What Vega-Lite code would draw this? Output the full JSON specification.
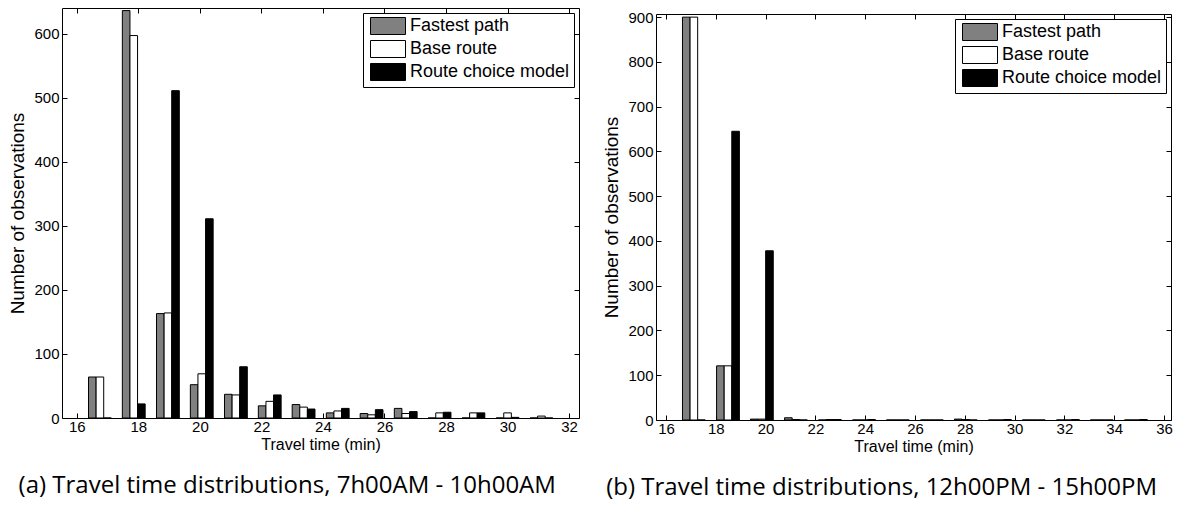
{
  "$schema": "https://vega.github.io/schema/vega-lite/v6.json",
  "padding": {"left": 8, "top": 7, "right": 5, "bottom": 0},
  "datasets": {
    "morning": [
      {"t": 16.75, "series": "Fastest path", "n": 64}, {"t": 16.75, "series": "Base route", "n": 64}, {"t": 16.75, "series": "Route choice model", "n": 0},
      {"t": 17.85, "series": "Fastest path", "n": 636}, {"t": 17.85, "series": "Base route", "n": 597}, {"t": 17.85, "series": "Route choice model", "n": 22},
      {"t": 18.96, "series": "Fastest path", "n": 163}, {"t": 18.96, "series": "Base route", "n": 164}, {"t": 18.96, "series": "Route choice model", "n": 511},
      {"t": 20.06, "series": "Fastest path", "n": 52}, {"t": 20.06, "series": "Base route", "n": 69}, {"t": 20.06, "series": "Route choice model", "n": 311},
      {"t": 21.17, "series": "Fastest path", "n": 37}, {"t": 21.17, "series": "Base route", "n": 36}, {"t": 21.17, "series": "Route choice model", "n": 80},
      {"t": 22.27, "series": "Fastest path", "n": 19}, {"t": 22.27, "series": "Base route", "n": 26}, {"t": 22.27, "series": "Route choice model", "n": 36},
      {"t": 23.37, "series": "Fastest path", "n": 21}, {"t": 23.37, "series": "Base route", "n": 17}, {"t": 23.37, "series": "Route choice model", "n": 14},
      {"t": 24.48, "series": "Fastest path", "n": 8}, {"t": 24.48, "series": "Base route", "n": 11}, {"t": 24.48, "series": "Route choice model", "n": 15},
      {"t": 25.58, "series": "Fastest path", "n": 7}, {"t": 25.58, "series": "Base route", "n": 5}, {"t": 25.58, "series": "Route choice model", "n": 13},
      {"t": 26.69, "series": "Fastest path", "n": 15}, {"t": 26.69, "series": "Base route", "n": 7}, {"t": 26.69, "series": "Route choice model", "n": 10},
      {"t": 27.79, "series": "Fastest path", "n": 0}, {"t": 27.79, "series": "Base route", "n": 8}, {"t": 27.79, "series": "Route choice model", "n": 9},
      {"t": 28.89, "series": "Fastest path", "n": 0}, {"t": 28.89, "series": "Base route", "n": 8}, {"t": 28.89, "series": "Route choice model", "n": 8},
      {"t": 30.0, "series": "Fastest path", "n": 0}, {"t": 30.0, "series": "Base route", "n": 8}, {"t": 30.0, "series": "Route choice model", "n": 1},
      {"t": 31.1, "series": "Fastest path", "n": 0}, {"t": 31.1, "series": "Base route", "n": 3}, {"t": 31.1, "series": "Route choice model", "n": 0}
    ],
    "midday": [
      {"t": 17.12, "series": "Fastest path", "n": 900}, {"t": 17.12, "series": "Base route", "n": 900}, {"t": 17.12, "series": "Route choice model", "n": 0},
      {"t": 18.49, "series": "Fastest path", "n": 121}, {"t": 18.49, "series": "Base route", "n": 121}, {"t": 18.49, "series": "Route choice model", "n": 645},
      {"t": 19.85, "series": "Fastest path", "n": 2}, {"t": 19.85, "series": "Base route", "n": 2}, {"t": 19.85, "series": "Route choice model", "n": 378},
      {"t": 21.22, "series": "Fastest path", "n": 5}, {"t": 21.22, "series": "Base route", "n": 1}, {"t": 21.22, "series": "Route choice model", "n": 0},
      {"t": 22.58, "series": "Fastest path", "n": 0}, {"t": 22.58, "series": "Base route", "n": 1}, {"t": 22.58, "series": "Route choice model", "n": 1},
      {"t": 23.95, "series": "Fastest path", "n": 0}, {"t": 23.95, "series": "Base route", "n": 0}, {"t": 23.95, "series": "Route choice model", "n": 1},
      {"t": 25.31, "series": "Fastest path", "n": 0}, {"t": 25.31, "series": "Base route", "n": 0}, {"t": 25.31, "series": "Route choice model", "n": 0},
      {"t": 26.68, "series": "Fastest path", "n": 0}, {"t": 26.68, "series": "Base route", "n": 0}, {"t": 26.68, "series": "Route choice model", "n": 0},
      {"t": 28.04, "series": "Fastest path", "n": 2}, {"t": 28.04, "series": "Base route", "n": 1}, {"t": 28.04, "series": "Route choice model", "n": 0},
      {"t": 29.41, "series": "Fastest path", "n": 0}, {"t": 29.41, "series": "Base route", "n": 0}, {"t": 29.41, "series": "Route choice model", "n": 1},
      {"t": 30.77, "series": "Fastest path", "n": 0}, {"t": 30.77, "series": "Base route", "n": 0}, {"t": 30.77, "series": "Route choice model", "n": 0},
      {"t": 32.14, "series": "Fastest path", "n": 0}, {"t": 32.14, "series": "Base route", "n": 0}, {"t": 32.14, "series": "Route choice model", "n": 1},
      {"t": 33.5, "series": "Fastest path", "n": 0}, {"t": 33.5, "series": "Base route", "n": 0}, {"t": 33.5, "series": "Route choice model", "n": 0},
      {"t": 34.87, "series": "Fastest path", "n": 0}, {"t": 34.87, "series": "Base route", "n": 0}, {"t": 34.87, "series": "Route choice model", "n": 1}
    ]
  },
  "spacing": 22,
  "hconcat": [
    {
      "width": 517,
      "height": 410,
      "data": {"name": "morning"},
      "title": {"text": "(a) Travel time distributions, 7h00AM - 10h00AM", "orient": "bottom", "anchor": "middle", "frame": "bounds", "font": "Open Sans", "fontSize": 24, "fontWeight": "normal", "color": "black", "offset": 22, "dx": -7},
      "layer": [
        {"transform": [{"filter": "datum.series === 'Fastest path'"}],
         "mark": {"type": "bar", "width": 7.6, "xOffset": -7.6, "stroke": "black", "strokeWidth": 1},
         "encoding": {
           "x": {"field": "t", "type": "quantitative", "scale": {"domain": [15.68, 32.16], "nice": false, "zero": false},
                 "axis": {"orient": "bottom", "values": [16, 18, 20, 22, 24, 26, 28, 30, 32], "format": "d", "title": "Travel time (min)", "labelPadding": 6, "titlePadding": 2, "titleFontSize": 16}},
           "y": {"field": "n", "type": "quantitative", "stack": null, "scale": {"domain": [0, 640], "nice": false},
                 "axis": {"orient": "left", "values": [0, 100, 200, 300, 400, 500, 600], "title": "Number of observations", "labelPadding": 8, "titlePadding": 6, "titleFontSize": 19}},
           "fill": {"field": "series", "type": "nominal", "scale": {"domain": ["Fastest path", "Base route", "Route choice model"], "range": ["#808080", "#ffffff", "#000000"]},
                    "legend": {"title": null, "orient": "top-right", "offset": 5}}
         }},
        {"transform": [{"filter": "datum.series === 'Base route'"}],
         "mark": {"type": "bar", "width": 7.6, "xOffset": 0, "stroke": "black", "strokeWidth": 1},
         "encoding": {
           "x": {"field": "t", "type": "quantitative", "axis": null},
           "y": {"field": "n", "type": "quantitative", "stack": null, "axis": null},
           "fill": {"field": "series", "type": "nominal", "legend": null}
         }},
        {"transform": [{"filter": "datum.series === 'Route choice model'"}],
         "mark": {"type": "bar", "width": 7.6, "xOffset": 7.6, "stroke": "black", "strokeWidth": 1},
         "encoding": {
           "x": {"field": "t", "type": "quantitative", "axis": null},
           "y": {"field": "n", "type": "quantitative", "stack": null, "axis": null},
           "fill": {"field": "series", "type": "nominal", "legend": null}
         }},
        {
          "mark": {"type": "point", "opacity": 0, "size": 0},
          "encoding": {
            "x": {"field": "t", "type": "quantitative", "axis": {"orient": "top", "values": [16, 18, 20, 22, 24, 26, 28, 30, 32], "labels": false, "title": null}},
            "y": {"field": "n", "type": "quantitative", "axis": {"orient": "right", "values": [0, 100, 200, 300, 400, 500, 600], "labels": false, "title": null}}
          }
        }
      ]
    },
    {
      "spacing": 0,
      "resolve": {"scale": {"fill": "independent"}, "legend": {"fill": "independent"}},
      "vconcat": [
        {
          "width": 515,
          "height": 0.01,
          "view": {"stroke": null},
          "data": {"values": [{"a": 0}]},
          "mark": {"type": "point", "opacity": 0, "size": 0},
          "encoding": {}
        },
        {
          "width": 515,
          "height": 406,
          "data": {"name": "midday"},
          "title": {"text": "(b) Travel time distributions, 12h00PM - 15h00PM", "orient": "bottom", "anchor": "middle", "frame": "bounds", "font": "Open Sans", "fontSize": 24, "fontWeight": "normal", "color": "black", "offset": 22, "dx": -6},
          "layer": [
            {"transform": [{"filter": "datum.series === 'Fastest path'"}],
             "mark": {"type": "bar", "width": 7.6, "xOffset": -7.6, "stroke": "black", "strokeWidth": 1},
             "encoding": {
               "x": {"field": "t", "type": "quantitative", "scale": {"domain": [15.8, 36.08], "nice": false, "zero": false},
                     "axis": {"orient": "bottom", "values": [16, 18, 20, 22, 24, 26, 28, 30, 32, 34, 36], "format": "d", "title": "Travel time (min)", "labelPadding": 6, "titlePadding": 2, "titleFontSize": 16}},
               "y": {"field": "n", "type": "quantitative", "stack": null, "scale": {"domain": [0, 907], "nice": false},
                     "axis": {"orient": "left", "values": [0, 100, 200, 300, 400, 500, 600, 700, 800, 900], "title": "Number of observations", "labelPadding": 8, "titlePadding": 6, "titleFontSize": 19}},
               "fill": {"field": "series", "type": "nominal", "scale": {"domain": ["Fastest path", "Base route", "Route choice model"], "range": ["#808080", "#ffffff", "#000000"]},
                        "legend": {"title": null, "orient": "top-right", "offset": 5}}
             }},
            {"transform": [{"filter": "datum.series === 'Base route'"}],
             "mark": {"type": "bar", "width": 7.6, "xOffset": 0, "stroke": "black", "strokeWidth": 1},
             "encoding": {
               "x": {"field": "t", "type": "quantitative", "axis": null},
               "y": {"field": "n", "type": "quantitative", "stack": null, "axis": null},
               "fill": {"field": "series", "type": "nominal", "legend": null}
             }},
            {"transform": [{"filter": "datum.series === 'Route choice model'"}],
             "mark": {"type": "bar", "width": 7.6, "xOffset": 7.6, "stroke": "black", "strokeWidth": 1},
             "encoding": {
               "x": {"field": "t", "type": "quantitative", "axis": null},
               "y": {"field": "n", "type": "quantitative", "stack": null, "axis": null},
               "fill": {"field": "series", "type": "nominal", "legend": null}
             }},
            {
              "mark": {"type": "point", "opacity": 0, "size": 0},
              "encoding": {
                "x": {"field": "t", "type": "quantitative", "axis": {"orient": "top", "values": [16, 18, 20, 22, 24, 26, 28, 30, 32, 34, 36], "labels": false, "title": null}},
                "y": {"field": "n", "type": "quantitative", "axis": {"orient": "right", "values": [0, 100, 200, 300, 400, 500, 600, 700, 800, 900], "labels": false, "title": null}}
              }
            }
          ]
        }
      ]
    }
  ],
  "resolve": {"scale": {"fill": "independent"}, "legend": {"fill": "independent"}},
  "config": {
    "view": {"stroke": "black", "strokeWidth": 1},
    "font": "Liberation Sans",
    "axis": {
      "grid": false, "domain": false, "tickColor": "black", "tickSize": -5, "tickWidth": 1,
      "labelFont": "Liberation Sans", "labelFontSize": 15, "labelColor": "black", "labelPadding": 8,
      "titleFont": "Liberation Sans", "titleFontSize": 15, "titleFontWeight": "normal", "titleColor": "black", "titlePadding": 4
    },
    "legend": {
      "strokeColor": "black", "fillColor": "white", "padding": 4, "cornerRadius": 0,
      "labelFont": "Liberation Sans", "labelFontSize": 18, "labelColor": "black", "labelOffset": 25,
      "symbolType": "M-0.647,-1H3.471V1H-0.647Z", "symbolSize": 289, "symbolStrokeColor": "black", "symbolStrokeWidth": 1, "symbolOpacity": 1,
      "rowPadding": 1, "labelLimit": 400
    }
  }
}
